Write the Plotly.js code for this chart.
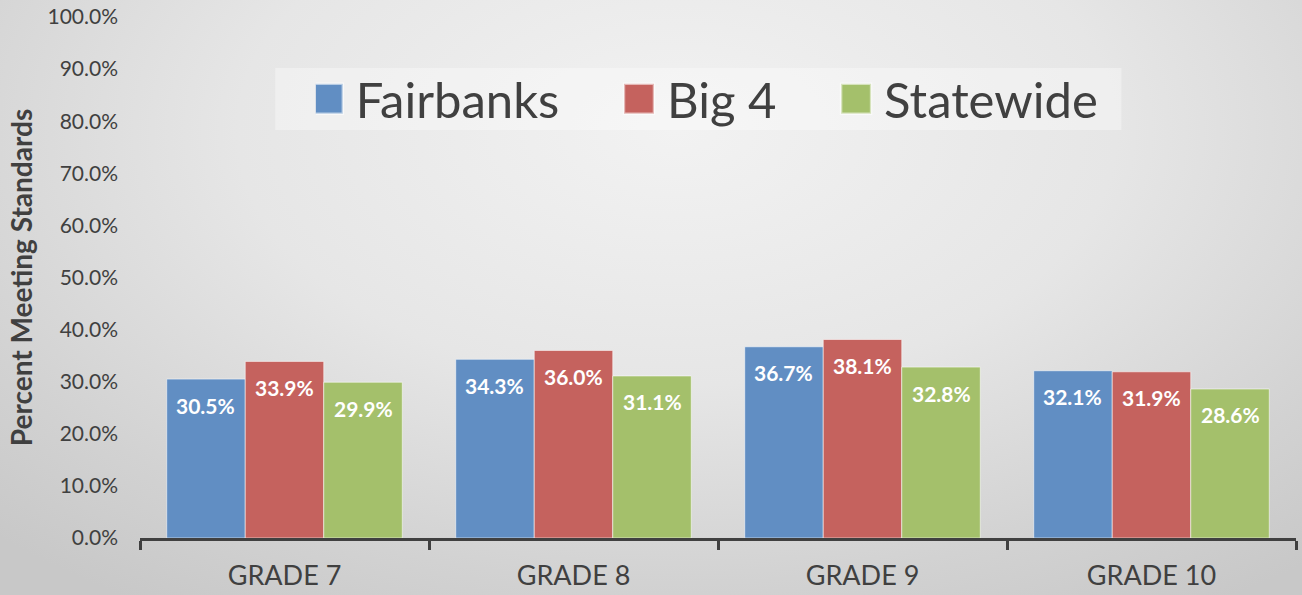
<!DOCTYPE html>
<html>
<head>
<meta charset="utf-8">
<script src="https://cdn.plot.ly/plotly-3.0.1.min.js"></script>
<style>
  html, body { margin: 0; padding: 0; }
  #chart {
    width: 1302px; height: 595px;
    background: radial-gradient(ellipse 75% 95% at 52% 22%, #f2f2f2 0%, #e6e6e6 45%, #d2d2d2 80%, #c8c8c8 100%);
  }
</style>
</head>
<body>
<div id="chart"></div>
<script>
const categories = ["GRADE 7", "GRADE 8", "GRADE 9", "GRADE 10"];
const seriesNames = ["Fairbanks", "Big 4", "Statewide"];
const fairbanks = [30.5, 34.3, 36.7, 32.1];
const big4 = [33.9, 36.0, 38.1, 31.9];
const statewide = [29.9, 31.1, 32.8, 28.6];
const yTicks = [0, 10, 20, 30, 40, 50, 60, 70, 80, 90, 100];

const seriesValues = [fairbanks, big4, statewide];
const colors = ["#618EC3", "#C5625E", "#A4C06B"];
const FONT = "Lato, 'Open Sans', sans-serif";
const bargap = 0.185;
const PAD = "\u00a0\u00a0\u00a0\u00a0\u00a0";

const traces = seriesValues.map((vals, i) => ({
  type: "bar",
  name: seriesNames[i] + (i < seriesValues.length - 1 ? PAD : ""),
  x: categories,
  y: vals,
  marker: { color: colors[i], line: { color: "rgba(255,255,255,0.55)", width: 1 } },
  hoverinfo: "skip"
}));

const barW = (1 - bargap) / seriesValues.length;
const annotations = [];
seriesValues.forEach((vals, i) => {
  vals.forEach((v, j) => {
    annotations.push({
      x: j + (i - (seriesValues.length - 1) / 2) * barW,
      y: v,
      xref: "x", yref: "y",
      text: v.toFixed(1) + "%",
      showarrow: false,
      yshift: -26,
      font: { family: FONT, size: 21, color: "#ffffff", weight: "bold" }
    });
  });
});

const layout = {
  width: 1302, height: 595,
  margin: { l: 140, r: 6, t: 17, b: 57 },
  paper_bgcolor: "rgba(0,0,0,0)",
  plot_bgcolor: "rgba(0,0,0,0)",
  barmode: "group",
  bargap: bargap,
  bargroupgap: 0,
  font: { family: FONT, color: "#404040" },
  showlegend: true,
  legend: {
    orientation: "h",
    x: 0.4925, xanchor: "center",
    y: 0.843, yanchor: "middle",
    font: { family: FONT, size: 49, color: "#404040" },
    bgcolor: "rgba(0,0,0,0)",
    itemclick: false
  },
  shapes: [{
    type: "rect", xref: "paper", yref: "paper",
    x0: 0.117, x1: 0.849, y0: 0.783, y1: 0.902,
    fillcolor: "rgba(255,255,255,0.35)", line: { width: 0 }, layer: "below"
  }],
  xaxis: {
    type: "category",
    showline: true, linecolor: "#404040", linewidth: 3,
    ticks: "outside", tickson: "boundaries", ticklen: 9, tickwidth: 3, tickcolor: "#404040",
    tickfont: { family: FONT, size: 27, color: "#404040" },
    ticklabelstandoff: 12,
    showgrid: false, zeroline: false, fixedrange: true
  },
  yaxis: {
    range: [0, 100],
    tickvals: yTicks,
    ticktext: yTicks.map(t => t.toFixed(1) + "%"),
    showgrid: false, zeroline: false, showline: false,
    ticks: "",
    ticklabelstandoff: 21,
    tickfont: { family: FONT, size: 21, color: "#404040" },
    title: { text: "Percent Meeting Standards", font: { family: FONT, size: 28, color: "#404040", weight: "bold" }, standoff: 6 },
    fixedrange: true
  },
  annotations: annotations
};

Plotly.newPlot("chart", traces, layout, { displayModeBar: false, staticPlot: true }).then(() => {
  document.querySelectorAll("#chart .legendpoints path").forEach(p => {
    const t = p.getAttribute("transform") || "";
    p.setAttribute("transform", t + " translate(-8,0) scale(2.5)");
  });
});
</script>
</body>
</html>
